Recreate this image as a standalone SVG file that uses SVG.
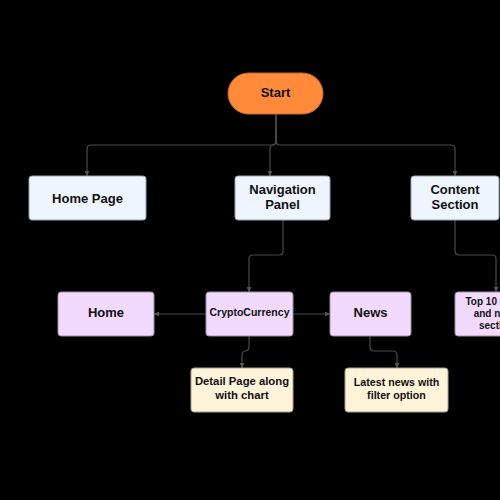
<svg xmlns="http://www.w3.org/2000/svg" width="500" height="500" viewBox="0 0 500 500">
<defs>
<marker id="ah" viewBox="0 0 10 10" refX="10" refY="5" markerWidth="5" markerHeight="5" orient="auto" markerUnits="userSpaceOnUse">
<path d="M0,0 L10,5 L0,10 z" fill="#555"/>
</marker>
<style>
.t{font-family:"Liberation Sans",Arial,sans-serif;font-weight:bold;fill:#111;text-anchor:middle}
.blue{fill:#EEF5FF;stroke:#9aa3ad;stroke-width:1}
.purple{fill:#F1DAFD;stroke:#9a8fa3;stroke-width:1}
.yellow{fill:#FFF3DA;stroke:#a8a08e;stroke-width:1}
.c{fill:none;stroke:#4a4a4a;stroke-width:1.2;marker-end:url(#ah)}
</style>
</defs>
<rect width="500" height="500" fill="#000"/>
<g id="connectors">
<path class="c" d="M276,114 V141 Q276,145 272,145 H91 Q87,145 87,149 V176"/>
<path class="c" d="M276,114 V141 Q276,145 272,145 H274 Q270,145 270,149 V176"/>
<path class="c" d="M276,114 V141 Q276,145 280,145 H451 Q455,145 455,149 V176"/>
<path class="c" d="M283,220 V251 Q283,255 279,255 H253 Q249,255 249,259 V292"/>
<path class="c" d="M455,220 V251 Q455,255 459,255 H492 Q496,255 496,259 V292"/>
<path class="c" d="M206,314 H154"/>
<path class="c" d="M293,314 H330"/>
<path class="c" d="M249,336 V347 Q249,351 245,351 H246 Q242,351 242,355 V368"/>
<path class="c" d="M370,336 V347 Q370,351 374,351 H393 Q397,351 397,355 V368"/>
</g>
<g id="start">
<rect x="228" y="73" width="95" height="41" rx="20.5" fill="#FF8A3A" stroke="#c96a28" stroke-width="1"/>
<text class="t" x="275.5" y="96.5" font-size="13">Start</text>
</g>
<g id="home-page">
<rect class="blue" x="29" y="176" width="117" height="44" rx="3"/>
<text class="t" x="87.5" y="202.5" font-size="13">Home Page</text>
</g>
<g id="navigation-panel">
<rect class="blue" x="235" y="176" width="95" height="44" rx="3"/>
<text class="t" x="282.5" y="193.5" font-size="13">Navigation</text>
<text class="t" x="282.5" y="209" font-size="13">Panel</text>
</g>
<g id="content-section">
<rect class="blue" x="411" y="176" width="88" height="44" rx="3"/>
<text class="t" x="455" y="193.5" font-size="13">Content</text>
<text class="t" x="455" y="209" font-size="13">Section</text>
</g>
<g id="home">
<rect class="purple" x="58" y="292" width="96" height="44" rx="3"/>
<text class="t" x="106" y="316.5" font-size="13">Home</text>
</g>
<g id="cryptocurrency">
<rect class="purple" x="206" y="292" width="87" height="44" rx="3"/>
<text class="t" x="249.5" y="316" font-size="10.5">CryptoCurrency</text>
</g>
<g id="news">
<rect class="purple" x="330" y="292" width="81" height="44" rx="3"/>
<text class="t" x="370.5" y="316.5" font-size="13">News</text>
</g>
<g id="top10">
<rect class="purple" x="455" y="292" width="88" height="44" rx="3"/>
<text class="t" x="496.5" y="304.5" font-size="10">Top 10 Coins</text>
<text class="t" x="496.5" y="316.5" font-size="10">and news</text>
<text class="t" x="496.5" y="328.5" font-size="10">section</text>
</g>
<g id="detail-page">
<rect class="yellow" x="191" y="368" width="102" height="44" rx="3"/>
<text class="t" x="242" y="385" font-size="11.3">Detail Page along</text>
<text class="t" x="242" y="399" font-size="11.3">with chart</text>
</g>
<g id="latest-news">
<rect class="yellow" x="345" y="368" width="103" height="44" rx="3"/>
<text class="t" x="396.5" y="385.5" font-size="10.7">Latest news with</text>
<text class="t" x="396.5" y="398.5" font-size="10.7">filter option</text>
</g>
</svg>
